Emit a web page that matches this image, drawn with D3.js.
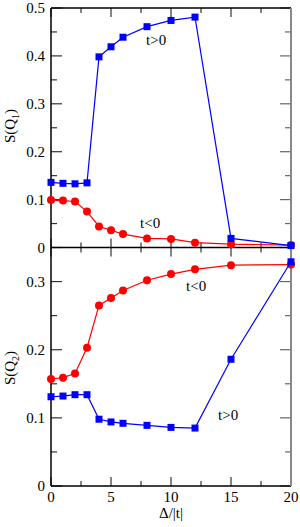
<!DOCTYPE html>
<html><head><meta charset="utf-8">
<script src="https://cdn.jsdelivr.net/npm/d3@7"></script>
<style>body{margin:0;background:#fff}svg{display:block}svg text{font-family:"Liberation Serif",Times,"Times New Roman","DejaVu Serif",serif !important}</style>
</head><body>
<svg id="c" width="300" height="527"></svg>
<script>
const xVals = [0,1,2,3,4,5,6,8,10,12,15,20];
const q1Pos = [0.136,0.134,0.133,0.135,0.398,0.419,0.439,0.461,0.474,0.481,0.019,0.004];
const q1Neg = [0.099,0.098,0.096,0.075,0.044,0.036,0.028,0.019,0.018,0.010,0.007,0.005];
const q2Neg = [0.157,0.159,0.165,0.203,0.265,0.276,0.287,0.302,0.311,0.318,0.324,0.325];
const q2Pos = [0.131,0.132,0.134,0.134,0.098,0.094,0.092,0.089,0.086,0.085,0.186,0.329];
const xTicks = [0,5,10,15,20];
const xMinor = [2.5,7.5,12.5,17.5];
const y1Ticks = [0,0.1,0.2,0.3,0.4,0.5];
const y1Minor = [0.05,0.15,0.25,0.35,0.45];
const y2Ticks = [0,0.1,0.2,0.3];
const y2Minor = [0.05,0.15,0.25];

const svg = d3.select("#c");
const L = 51, R = 291, T = 8, M = 247.5, B = 486;
const x = d3.scaleLinear().domain([0,20]).range([L,R]);
const y1 = d3.scaleLinear().domain([0,0.5]).range([M,T]);
const y2 = d3.scaleLinear().domain([0,0.35]).range([B,M]);
const fmt = d => d===0 ? "0" : d3.format(".1f")(d);
const tickCol = "#333";
const FF = "'Liberation Serif', 'DejaVu Serif', serif";

function ticksX(yPos, dir){
  const g = svg.append("g").attr("stroke", tickCol).attr("stroke-width",1.2);
  g.selectAll(null).data(xTicks).join("line").attr("x1",d=>x(d)).attr("x2",d=>x(d)).attr("y1",yPos).attr("y2",yPos+dir*9);
  g.selectAll(null).data(xMinor).join("line").attr("x1",d=>x(d)).attr("x2",d=>x(d)).attr("y1",yPos).attr("y2",yPos+dir*5);
}
function ticksY(ys, maj, min, xPos, dir, col){
  const g = svg.append("g").attr("stroke", col).attr("stroke-width",1.2);
  g.selectAll(null).data(maj).join("line").attr("x1",xPos).attr("x2",xPos+dir*11).attr("y1",d=>ys(d)).attr("y2",d=>ys(d));
  g.selectAll(null).data(min).join("line").attr("x1",xPos).attr("x2",xPos+dir*6).attr("y1",d=>ys(d)).attr("y2",d=>ys(d));
}
ticksX(T, 1); ticksX(M, -1); ticksX(M, 1); ticksX(B, -1);
ticksY(y1, y1Ticks, y1Minor, L, 1, tickCol);
ticksY(y2, y2Ticks, y2Minor, L, 1, tickCol);
ticksY(y1, y1Ticks, y1Minor, R, -1, "#666");
ticksY(y2, y2Ticks, y2Minor, R, -1, "#666");

[T, M, B].forEach(yy => svg.append("line").attr("x1",L).attr("x2",R).attr("y1",yy).attr("y2",yy).attr("stroke","#000").attr("stroke-width",1.5));
svg.append("line").attr("x1",L).attr("x2",L).attr("y1",T).attr("y2",B).attr("stroke","#000").attr("stroke-width",1.5);
svg.append("line").attr("x1",R).attr("x2",R).attr("y1",T).attr("y2",B).attr("stroke","#888").attr("stroke-width",2);

const lab = svg.append("g").attr("font-size",15).attr("fill","#000").style("font-family",FF);
lab.selectAll(null).data(y1Ticks).join("text").attr("x",45).attr("y",d=>y1(d)+5).attr("text-anchor","end").style("font-family",FF).text(fmt);
lab.selectAll(null).data(y2Ticks).join("text").attr("x",45).attr("y",d=>y2(d)+5).attr("text-anchor","end").style("font-family",FF).text(fmt);
lab.selectAll(null).data(xTicks).join("text").attr("x",d=>x(d)).attr("y",502).attr("text-anchor","middle").style("font-family",FF).text(d=>d);

svg.append("text").attr("x",171).attr("y",518).attr("text-anchor","middle").attr("font-size",15).style("font-family",FF).text("Δ/|t|");
function ylab(cy, sub){
  const t = svg.append("text").attr("transform",`translate(15,${cy}) rotate(-90)`).attr("text-anchor","middle").attr("font-size",15).style("font-family",FF);
  t.append("tspan").text("S(Q");
  t.append("tspan").attr("font-size",10).attr("dy",4).text(sub);
  t.append("tspan").attr("dy",-4).text(")");
}
ylab(126,"1"); ylab(368,"2");

const line = (ys) => d3.line().x((d,i)=>x(xVals[i])).y(d=>ys(d));
function series(vals, ys, col, shape){
  svg.append("path").datum(vals).attr("d",line(ys)).attr("fill","none").attr("stroke",col).attr("stroke-width",1.2);
  const g = svg.append("g").attr("fill",col);
  if(shape==="sq"){
    g.selectAll(null).data(vals).join("rect").attr("x",(d,i)=>x(xVals[i])-3.5).attr("y",d=>ys(d)-3.5).attr("width",7).attr("height",7);
  } else {
    g.selectAll(null).data(vals).join("circle").attr("cx",(d,i)=>x(xVals[i])).attr("cy",d=>ys(d)).attr("r",4);
  }
}
series(q1Neg, y1, "#ff0000", "c");
series(q1Pos, y1, "#0000ff", "sq");
series(q2Neg, y2, "#ff0000", "c");
series(q2Pos, y2, "#0000ff", "sq");

const ann = svg.append("g").attr("font-size",15).style("font-family",FF);
ann.append("text").attr("x",146).attr("y",45).text("t>0");
ann.append("text").attr("x",140).attr("y",228).text("t<0");
ann.append("text").attr("x",186).attr("y",291).text("t<0");
ann.append("text").attr("x",218).attr("y",420).text("t>0");
</script>
</body></html>
